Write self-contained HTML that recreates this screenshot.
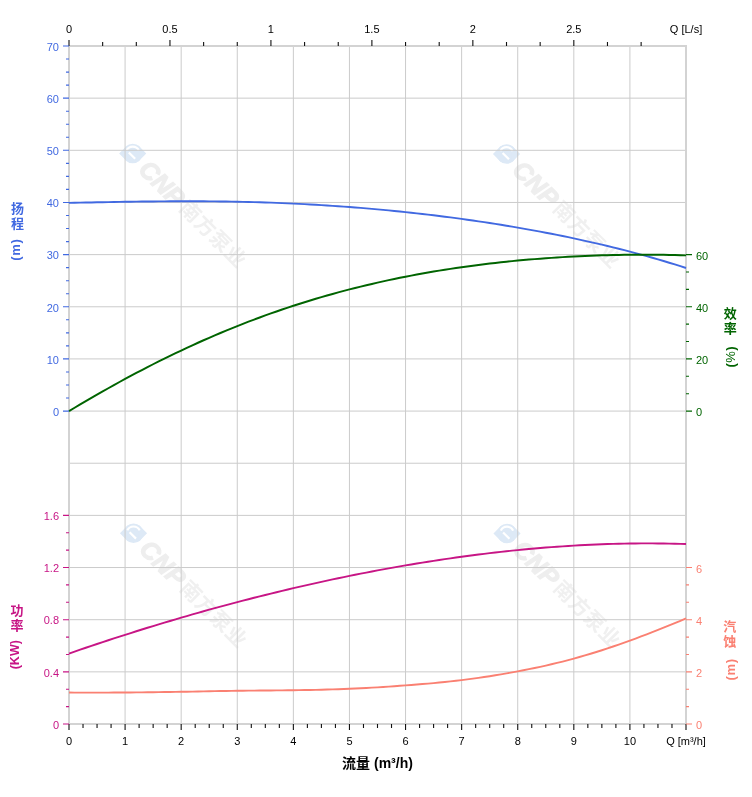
<!DOCTYPE html>
<html lang="zh"><head><meta charset="utf-8"><title>性能曲线</title><style>html,body{margin:0;padding:0;background:#fff}body{width:752px;height:797px;overflow:hidden}</style></head><body>
<svg width="752" height="797" viewBox="0 0 752 797" style="display:block;font-family:'Liberation Sans','Noto Sans CJK SC',sans-serif">
<rect width="752" height="797" fill="#fff"/>
<g transform="translate(132.7 153.5) rotate(45)"><g fill="#dde9f6"><circle r="9.8"/><path d="M-9.6 -2 L-9.6 9.6 L2 9.6 Z M9.6 2 L9.6 -9.6 L-2 -9.6 Z"/></g><path d="M-6.4 2.3 A6.8 6.8 0 0 1 2.3 -6.4 M-3.5 2 H5.5" fill="none" stroke="#fff" stroke-width="2.2"/><text x="15.5" y="9" font-size="25" font-weight="bold" font-style="italic" fill="#eeeeee" stroke="#eeeeee" stroke-width="1.2">CNP</text><text x="71.5 92.7 113.9 135.1" y="7.5" font-size="20.5" font-weight="bold" fill="#f0f0f0">南方泵业</text></g>
<g transform="translate(506.5 154) rotate(45)"><g fill="#dde9f6"><circle r="9.8"/><path d="M-9.6 -2 L-9.6 9.6 L2 9.6 Z M9.6 2 L9.6 -9.6 L-2 -9.6 Z"/></g><path d="M-6.4 2.3 A6.8 6.8 0 0 1 2.3 -6.4 M-3.5 2 H5.5" fill="none" stroke="#fff" stroke-width="2.2"/><text x="15.5" y="9" font-size="25" font-weight="bold" font-style="italic" fill="#eeeeee" stroke="#eeeeee" stroke-width="1.2">CNP</text><text x="71.5 92.7 113.9 135.1" y="7.5" font-size="20.5" font-weight="bold" fill="#f0f0f0">南方泵业</text></g>
<g transform="translate(133.5 533.3) rotate(45)"><g fill="#dde9f6"><circle r="9.8"/><path d="M-9.6 -2 L-9.6 9.6 L2 9.6 Z M9.6 2 L9.6 -9.6 L-2 -9.6 Z"/></g><path d="M-6.4 2.3 A6.8 6.8 0 0 1 2.3 -6.4 M-3.5 2 H5.5" fill="none" stroke="#fff" stroke-width="2.2"/><text x="15.5" y="9" font-size="25" font-weight="bold" font-style="italic" fill="#eeeeee" stroke="#eeeeee" stroke-width="1.2">CNP</text><text x="71.5 92.7 113.9 135.1" y="7.5" font-size="20.5" font-weight="bold" fill="#f0f0f0">南方泵业</text></g>
<g transform="translate(507 533.5) rotate(45)"><g fill="#dde9f6"><circle r="9.8"/><path d="M-9.6 -2 L-9.6 9.6 L2 9.6 Z M9.6 2 L9.6 -9.6 L-2 -9.6 Z"/></g><path d="M-6.4 2.3 A6.8 6.8 0 0 1 2.3 -6.4 M-3.5 2 H5.5" fill="none" stroke="#fff" stroke-width="2.2"/><text x="15.5" y="9" font-size="25" font-weight="bold" font-style="italic" fill="#eeeeee" stroke="#eeeeee" stroke-width="1.2">CNP</text><text x="71.5 92.7 113.9 135.1" y="7.5" font-size="20.5" font-weight="bold" fill="#f0f0f0">南方泵业</text></g>
<path d="M125.09 46.0V724.0M181.18 46.0V724.0M237.27 46.0V724.0M293.36 46.0V724.0M349.45 46.0V724.0M405.55 46.0V724.0M461.64 46.0V724.0M517.73 46.0V724.0M573.82 46.0V724.0M629.91 46.0V724.0M69.0 98.15H686.0M69.0 150.31H686.0M69.0 202.46H686.0M69.0 254.62H686.0M69.0 306.77H686.0M69.0 358.92H686.0M69.0 411.08H686.0M69.0 463.23H686.0M69.0 515.38H686.0M69.0 567.54H686.0M69.0 619.69H686.0M69.0 671.85H686.0" stroke="#cbcbcb" stroke-width="1" fill="none"/>
<rect x="69.0" y="46.0" width="617.0" height="678.0" fill="none" stroke="#d3d3d3" stroke-width="2" shape-rendering="crispEdges"/>
<polyline points="69.0,202.87 74.6,202.76 80.2,202.65 85.8,202.54 91.4,202.43 97.0,202.32 102.7,202.22 108.3,202.11 113.9,202.01 119.5,201.91 125.1,201.81 130.7,201.72 136.3,201.64 141.9,201.56 147.5,201.49 153.1,201.43 158.7,201.38 164.4,201.33 170.0,201.29 175.6,201.27 181.2,201.25 186.8,201.25 192.4,201.25 198.0,201.27 203.6,201.30 209.2,201.34 214.8,201.39 220.4,201.46 226.1,201.54 231.7,201.63 237.3,201.74 242.9,201.86 248.5,201.99 254.1,202.14 259.7,202.30 265.3,202.48 270.9,202.67 276.5,202.88 282.1,203.11 287.8,203.34 293.4,203.60 299.0,203.87 304.6,204.16 310.2,204.46 315.8,204.78 321.4,205.11 327.0,205.46 332.6,205.83 338.2,206.21 343.8,206.61 349.5,207.02 355.1,207.46 360.7,207.91 366.3,208.37 371.9,208.86 377.5,209.36 383.1,209.87 388.7,210.41 394.3,210.96 399.9,211.53 405.5,212.11 411.2,212.71 416.8,213.33 422.4,213.97 428.0,214.63 433.6,215.30 439.2,215.99 444.8,216.70 450.4,217.42 456.0,218.17 461.6,218.93 467.2,219.71 472.9,220.51 478.5,221.33 484.1,222.17 489.7,223.03 495.3,223.90 500.9,224.80 506.5,225.72 512.1,226.65 517.7,227.61 523.3,228.59 528.9,229.58 534.6,230.60 540.2,231.64 545.8,232.71 551.4,233.79 557.0,234.90 562.6,236.04 568.2,237.19 573.8,238.37 579.4,239.58 585.0,240.81 590.6,242.06 596.3,243.34 601.9,244.65 607.5,245.99 613.1,247.35 618.7,248.75 624.3,250.17 629.9,251.62 635.5,253.11 641.1,254.63 646.7,256.17 652.3,257.76 658.0,259.38 663.6,261.03 669.2,262.72 674.8,264.44 680.4,266.21 686.0,268.01" fill="none" stroke="#4169e1" stroke-width="1.9" stroke-linejoin="round"/>
<polyline points="69.0,411.12 74.6,407.75 80.2,404.42 85.8,401.12 91.4,397.85 97.0,394.61 102.7,391.41 108.3,388.25 113.9,385.12 119.5,382.02 125.1,378.97 130.7,375.95 136.3,372.96 141.9,370.02 147.5,367.11 153.1,364.25 158.7,361.42 164.4,358.63 170.0,355.88 175.6,353.18 181.2,350.51 186.8,347.88 192.4,345.30 198.0,342.76 203.6,340.25 209.2,337.79 214.8,335.37 220.4,332.99 226.1,330.65 231.7,328.36 237.3,326.10 242.9,323.89 248.5,321.71 254.1,319.58 259.7,317.49 265.3,315.44 270.9,313.43 276.5,311.46 282.1,309.53 287.8,307.64 293.4,305.79 299.0,303.99 304.6,302.21 310.2,300.48 315.8,298.79 321.4,297.14 327.0,295.52 332.6,293.94 338.2,292.40 343.8,290.90 349.5,289.43 355.1,288.00 360.7,286.61 366.3,285.25 371.9,283.93 377.5,282.64 383.1,281.38 388.7,280.16 394.3,278.98 399.9,277.82 405.5,276.70 411.2,275.62 416.8,274.56 422.4,273.54 428.0,272.54 433.6,271.58 439.2,270.65 444.8,269.75 450.4,268.88 456.0,268.03 461.6,267.22 467.2,266.44 472.9,265.68 478.5,264.95 484.1,264.25 489.7,263.57 495.3,262.92 500.9,262.30 506.5,261.71 512.1,261.14 517.7,260.59 523.3,260.07 528.9,259.58 534.6,259.11 540.2,258.66 545.8,258.24 551.4,257.85 557.0,257.47 562.6,257.12 568.2,256.80 573.8,256.49 579.4,256.22 585.0,255.96 590.6,255.73 596.3,255.52 601.9,255.33 607.5,255.16 613.1,255.02 618.7,254.91 624.3,254.81 629.9,254.74 635.5,254.69 641.1,254.67 646.7,254.67 652.3,254.69 658.0,254.74 663.6,254.81 669.2,254.91 674.8,255.03 680.4,255.18 686.0,255.35" fill="none" stroke="#006400" stroke-width="1.95" stroke-linejoin="round"/>
<polyline points="69.0,653.55 74.6,651.61 80.2,649.68 85.8,647.77 91.4,645.87 97.0,643.99 102.7,642.12 108.3,640.27 113.9,638.44 119.5,636.62 125.1,634.82 130.7,633.04 136.3,631.27 141.9,629.52 147.5,627.78 153.1,626.06 158.7,624.35 164.4,622.66 170.0,620.99 175.6,619.33 181.2,617.69 186.8,616.06 192.4,614.45 198.0,612.86 203.6,611.28 209.2,609.71 214.8,608.17 220.4,606.64 226.1,605.12 231.7,603.62 237.3,602.14 242.9,600.67 248.5,599.22 254.1,597.79 259.7,596.37 265.3,594.97 270.9,593.58 276.5,592.21 282.1,590.86 287.8,589.52 293.4,588.20 299.0,586.90 304.6,585.61 310.2,584.34 315.8,583.09 321.4,581.85 327.0,580.63 332.6,579.43 338.2,578.25 343.8,577.08 349.5,575.93 355.1,574.80 360.7,573.68 366.3,572.59 371.9,571.51 377.5,570.44 383.1,569.40 388.7,568.37 394.3,567.37 399.9,566.38 405.5,565.41 411.2,564.46 416.8,563.52 422.4,562.61 428.0,561.71 433.6,560.84 439.2,559.98 444.8,559.14 450.4,558.32 456.0,557.53 461.6,556.75 467.2,555.99 472.9,555.25 478.5,554.53 484.1,553.84 489.7,553.16 495.3,552.51 500.9,551.87 506.5,551.26 512.1,550.67 517.7,550.10 523.3,549.55 528.9,549.02 534.6,548.52 540.2,548.03 545.8,547.57 551.4,547.14 557.0,546.72 562.6,546.33 568.2,545.97 573.8,545.62 579.4,545.30 585.0,545.01 590.6,544.73 596.3,544.49 601.9,544.27 607.5,544.07 613.1,543.90 618.7,543.75 624.3,543.63 629.9,543.53 635.5,543.46 641.1,543.42 646.7,543.40 652.3,543.42 658.0,543.45 663.6,543.52 669.2,543.61 674.8,543.73 680.4,543.88 686.0,544.06" fill="none" stroke="#c71585" stroke-width="1.9" stroke-linejoin="round"/>
<polyline points="69.0,692.55 74.6,692.58 80.2,692.60 85.8,692.61 91.4,692.62 97.0,692.61 102.7,692.61 108.3,692.59 113.9,692.57 119.5,692.54 125.1,692.50 130.7,692.46 136.3,692.41 141.9,692.35 147.5,692.29 153.1,692.22 158.7,692.15 164.4,692.07 170.0,691.99 175.6,691.90 181.2,691.80 186.8,691.70 192.4,691.60 198.0,691.49 203.6,691.38 209.2,691.27 214.8,691.17 220.4,691.07 226.1,690.97 231.7,690.88 237.3,690.80 242.9,690.73 248.5,690.66 254.1,690.60 259.7,690.55 265.3,690.49 270.9,690.44 276.5,690.39 282.1,690.33 287.8,690.27 293.4,690.20 299.0,690.12 304.6,690.04 310.2,689.94 315.8,689.83 321.4,689.71 327.0,689.56 332.6,689.41 338.2,689.23 343.8,689.02 349.5,688.80 355.1,688.55 360.7,688.28 366.3,687.98 371.9,687.67 377.5,687.33 383.1,686.98 388.7,686.61 394.3,686.22 399.9,685.82 405.5,685.40 411.2,684.97 416.8,684.53 422.4,684.06 428.0,683.58 433.6,683.08 439.2,682.54 444.8,681.98 450.4,681.39 456.0,680.76 461.6,680.10 467.2,679.40 472.9,678.65 478.5,677.87 484.1,677.05 489.7,676.19 495.3,675.30 500.9,674.37 506.5,673.40 512.1,672.39 517.7,671.35 523.3,670.27 528.9,669.16 534.6,668.00 540.2,666.81 545.8,665.57 551.4,664.28 557.0,662.94 562.6,661.55 568.2,660.10 573.8,658.60 579.4,657.04 585.0,655.42 590.6,653.74 596.3,652.02 601.9,650.23 607.5,648.40 613.1,646.52 618.7,644.59 624.3,642.62 629.9,640.60 635.5,638.54 641.1,636.44 646.7,634.30 652.3,632.13 658.0,629.92 663.6,627.67 669.2,625.40 674.8,623.09 680.4,620.76 686.0,618.40" fill="none" stroke="#fa8072" stroke-width="1.9" stroke-linejoin="round"/>
<path d="M69.00 46.0v-6M102.65 46.0v-4M136.31 46.0v-4M169.96 46.0v-6M203.62 46.0v-4M237.27 46.0v-4M270.93 46.0v-6M304.58 46.0v-4M338.24 46.0v-4M371.89 46.0v-6M405.55 46.0v-4M439.20 46.0v-4M472.85 46.0v-6M506.51 46.0v-4M540.16 46.0v-4M573.82 46.0v-6M607.47 46.0v-4M641.13 46.0v-4M69.00 724.0v6M83.02 724.0v4M97.05 724.0v4M111.07 724.0v4M125.09 724.0v6M139.11 724.0v4M153.14 724.0v4M167.16 724.0v4M181.18 724.0v6M195.20 724.0v4M209.23 724.0v4M223.25 724.0v4M237.27 724.0v6M251.30 724.0v4M265.32 724.0v4M279.34 724.0v4M293.36 724.0v6M307.39 724.0v4M321.41 724.0v4M335.43 724.0v4M349.45 724.0v6M363.48 724.0v4M377.50 724.0v4M391.52 724.0v4M405.55 724.0v6M419.57 724.0v4M433.59 724.0v4M447.61 724.0v4M461.64 724.0v6M475.66 724.0v4M489.68 724.0v4M503.70 724.0v4M517.73 724.0v6M531.75 724.0v4M545.77 724.0v4M559.80 724.0v4M573.82 724.0v6M587.84 724.0v4M601.86 724.0v4M615.89 724.0v4M629.91 724.0v6M643.93 724.0v4M657.95 724.0v4M671.98 724.0v4M686.00 724.0v6" stroke="#111" stroke-width="1.1" fill="none"/>
<path d="M69.0 46.00h-6M69.0 59.04h-3M69.0 72.08h-3M69.0 85.12h-3M69.0 98.15h-6M69.0 111.19h-3M69.0 124.23h-3M69.0 137.27h-3M69.0 150.31h-6M69.0 163.35h-3M69.0 176.38h-3M69.0 189.42h-3M69.0 202.46h-6M69.0 215.50h-3M69.0 228.54h-3M69.0 241.58h-3M69.0 254.62h-6M69.0 267.65h-3M69.0 280.69h-3M69.0 293.73h-3M69.0 306.77h-6M69.0 319.81h-3M69.0 332.85h-3M69.0 345.88h-3M69.0 358.92h-6M69.0 371.96h-3M69.0 385.00h-3M69.0 398.04h-3M69.0 411.08h-6" stroke="#4169e1" stroke-width="1.1" fill="none"/>
<path d="M686.0 254.62h6M686.0 272.00h3M686.0 289.38h3M686.0 306.77h6M686.0 324.15h3M686.0 341.54h3M686.0 358.92h6M686.0 376.31h3M686.0 393.69h3M686.0 411.08h6" stroke="#006400" stroke-width="1.1" fill="none"/>
<path d="M69.0 515.38h-6M69.0 532.77h-3M69.0 550.15h-3M69.0 567.54h-6M69.0 584.92h-3M69.0 602.31h-3M69.0 619.69h-6M69.0 637.08h-3M69.0 654.46h-3M69.0 671.85h-6M69.0 689.23h-3M69.0 706.62h-3M69.0 724.00h-6" stroke="#c71585" stroke-width="1.1" fill="none"/>
<path d="M686.0 567.54h6M686.0 584.92h3M686.0 602.31h3M686.0 619.69h6M686.0 637.08h3M686.0 654.46h3M686.0 671.85h6M686.0 689.23h3M686.0 706.62h3M686.0 724.00h6" stroke="#fa8072" stroke-width="1.1" fill="none"/>
<text x="69.00" y="32.5" font-size="11" text-anchor="middle" fill="#000">0</text>
<text x="169.96" y="32.5" font-size="11" text-anchor="middle" fill="#000">0.5</text>
<text x="270.93" y="32.5" font-size="11" text-anchor="middle" fill="#000">1</text>
<text x="371.89" y="32.5" font-size="11" text-anchor="middle" fill="#000">1.5</text>
<text x="472.85" y="32.5" font-size="11" text-anchor="middle" fill="#000">2</text>
<text x="573.82" y="32.5" font-size="11" text-anchor="middle" fill="#000">2.5</text>
<text x="686" y="32.5" font-size="11" text-anchor="middle" fill="#000">Q [L/s]</text>
<text x="69.00" y="744.5" font-size="11" text-anchor="middle" fill="#000">0</text>
<text x="125.09" y="744.5" font-size="11" text-anchor="middle" fill="#000">1</text>
<text x="181.18" y="744.5" font-size="11" text-anchor="middle" fill="#000">2</text>
<text x="237.27" y="744.5" font-size="11" text-anchor="middle" fill="#000">3</text>
<text x="293.36" y="744.5" font-size="11" text-anchor="middle" fill="#000">4</text>
<text x="349.45" y="744.5" font-size="11" text-anchor="middle" fill="#000">5</text>
<text x="405.55" y="744.5" font-size="11" text-anchor="middle" fill="#000">6</text>
<text x="461.64" y="744.5" font-size="11" text-anchor="middle" fill="#000">7</text>
<text x="517.73" y="744.5" font-size="11" text-anchor="middle" fill="#000">8</text>
<text x="573.82" y="744.5" font-size="11" text-anchor="middle" fill="#000">9</text>
<text x="629.91" y="744.5" font-size="11" text-anchor="middle" fill="#000">10</text>
<text x="686" y="744.5" font-size="11" text-anchor="middle" fill="#000">Q [m³/h]</text>
<text x="59" y="50.75" font-size="11" text-anchor="end" fill="#4169e1">70</text>
<text x="59" y="102.90" font-size="11" text-anchor="end" fill="#4169e1">60</text>
<text x="59" y="155.06" font-size="11" text-anchor="end" fill="#4169e1">50</text>
<text x="59" y="207.21" font-size="11" text-anchor="end" fill="#4169e1">40</text>
<text x="59" y="259.37" font-size="11" text-anchor="end" fill="#4169e1">30</text>
<text x="59" y="311.52" font-size="11" text-anchor="end" fill="#4169e1">20</text>
<text x="59" y="363.67" font-size="11" text-anchor="end" fill="#4169e1">10</text>
<text x="59" y="415.83" font-size="11" text-anchor="end" fill="#4169e1">0</text>
<text x="696" y="259.82" font-size="11" fill="#006400">60</text>
<text x="696" y="311.97" font-size="11" fill="#006400">40</text>
<text x="696" y="364.12" font-size="11" fill="#006400">20</text>
<text x="696" y="416.28" font-size="11" fill="#006400">0</text>
<text x="59" y="520.13" font-size="11" text-anchor="end" fill="#c71585">1.6</text>
<text x="59" y="572.29" font-size="11" text-anchor="end" fill="#c71585">1.2</text>
<text x="59" y="624.44" font-size="11" text-anchor="end" fill="#c71585">0.8</text>
<text x="59" y="676.60" font-size="11" text-anchor="end" fill="#c71585">0.4</text>
<text x="59" y="728.75" font-size="11" text-anchor="end" fill="#c71585">0</text>
<text x="696" y="572.64" font-size="11" fill="#fa8072">6</text>
<text x="696" y="624.79" font-size="11" fill="#fa8072">4</text>
<text x="696" y="676.95" font-size="11" fill="#fa8072">2</text>
<text x="696" y="729.10" font-size="11" fill="#fa8072">0</text>
<text x="17.4 17.4" y="212.9 227.90" font-size="13" text-anchor="middle" fill="#4169e1" font-weight="bold">扬程</text><text transform="translate(20.05 260.8) rotate(-90)" font-size="13" font-weight="bold" fill="#4169e1" letter-spacing="0.7">(m)</text>
<text x="730.2 730.2" y="317.6 332.60" font-size="13" text-anchor="middle" fill="#006400" font-weight="bold">效率</text><text transform="translate(735.3 367.6) rotate(-90)" font-size="13" font-weight="bold" fill="#006400" letter-spacing="0.45">(<tspan font-weight="normal">%</tspan>)</text>
<text x="17.0 17.0" y="614.6 629.60" font-size="13" text-anchor="middle" fill="#c71585" font-weight="bold">功率</text><text transform="translate(18.9 669.3) rotate(-90)" font-size="12.5" font-weight="bold" fill="#c71585">(KW)</text>
<text x="729.7 729.7" y="630.55 645.55" font-size="13" text-anchor="middle" fill="#fa8072" font-weight="bold">汽蚀</text><text transform="translate(735.3 680.5) rotate(-90)" font-size="13" font-weight="bold" fill="#fa8072" letter-spacing="0.7">(m)</text>
<text x="377.5" y="768" font-size="14" text-anchor="middle" fill="#000" font-weight="bold">流量 (m³/h)</text>
</svg>
</body></html>
